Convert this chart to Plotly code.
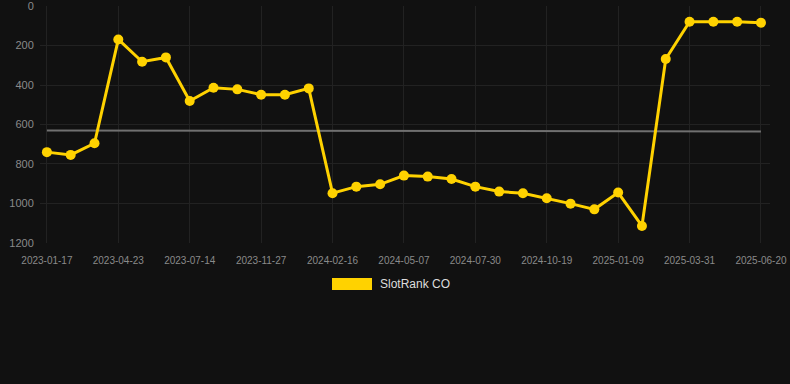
import plotly.graph_objects as go

dates = [
    "2023-01-17", "2023-02-19", "2023-03-22", "2023-04-23", "2023-05-20", "2023-06-17",
    "2023-07-14", "2023-08-28", "2023-10-12", "2023-11-27", "2023-12-23", "2024-01-19",
    "2024-02-16", "2024-03-13", "2024-04-10", "2024-05-07", "2024-06-04", "2024-07-02",
    "2024-07-30", "2024-08-26", "2024-09-22", "2024-10-19", "2024-11-15", "2024-12-12",
    "2025-01-09", "2025-02-05", "2025-03-04", "2025-03-31", "2025-04-27", "2025-05-24",
    "2025-06-20",
]
rank = [
    740, 754, 695, 169, 282, 260,
    481, 414, 422, 449, 449, 417,
    948, 915, 903, 859, 864, 876,
    915, 940, 948, 974, 1001, 1030,
    945, 1114, 268, 79, 79, 79,
    84,
]
avg_x = [dates[0], dates[-1]]
avg_y = [630, 635]
tick_labels = dates[::3]
y_ticks = [0, 200, 400, 600, 800, 1000, 1200]
series_name = "SlotRank CO"

BG = "#111111"
GOLD = "#FFD200"

fig = go.Figure()
fig.add_trace(go.Scatter(
    x=avg_x, y=avg_y, mode="lines",
    line=dict(color="#707070", width=2),
    showlegend=False, hoverinfo="skip",
))
fig.add_trace(go.Scatter(
    x=dates, y=rank, mode="lines+markers", name=series_name,
    line=dict(color=GOLD, width=3),
    marker=dict(color=GOLD, size=10),
    showlegend=False,
))

fig.update_layout(
    width=790, height=384,
    paper_bgcolor=BG, plot_bgcolor=BG,
    margin=dict(l=40, r=20, t=6, b=141, autoexpand=False),
    font=dict(family="Liberation Sans, Arial, sans-serif", color="#8a8a8a"),
    showlegend=False,
)
fig.update_xaxes(
    type="category", categoryorder="array", categoryarray=dates,
    range=[-0.29, 30.38],
    tickmode="array", tickvals=tick_labels, ticktext=tick_labels,
    tickfont=dict(size=10, color="#8a8a8a"),
    showgrid=True, gridcolor="#222222", gridwidth=1,
    zeroline=False, showline=False,
    ticks="outside", ticklen=8, tickcolor=BG,
    ticklabeloverflow="allow", automargin=False,
)
fig.update_yaxes(
    range=[1200.5, -0.5],
    tickmode="array", tickvals=y_ticks,
    tickfont=dict(size=11, color="#8a8a8a"),
    showgrid=True, gridcolor="#222222", gridwidth=1,
    zeroline=False, showline=False,
    ticks="outside", ticklen=3, tickcolor=BG,
    ticklabeloverflow="allow", automargin=False,
)

# legend swatch and label
fig.add_shape(type="rect", xref="paper", yref="paper",
              x0=0.4, x1=0.4548, y0=-0.1983, y1=-0.1477,
              fillcolor=GOLD, line=dict(width=0))
fig.add_annotation(x=0.463, y=-0.173, xref="paper", yref="paper",
                   text=series_name, showarrow=False, xanchor="left", yanchor="middle",
                   font=dict(size=12, color="#dddddd"))

fig.write_html(
    "out.html",
    config={"displayModeBar": False},
    post_script="document.body.style.margin='0';document.body.style.background='#111111';",
)
